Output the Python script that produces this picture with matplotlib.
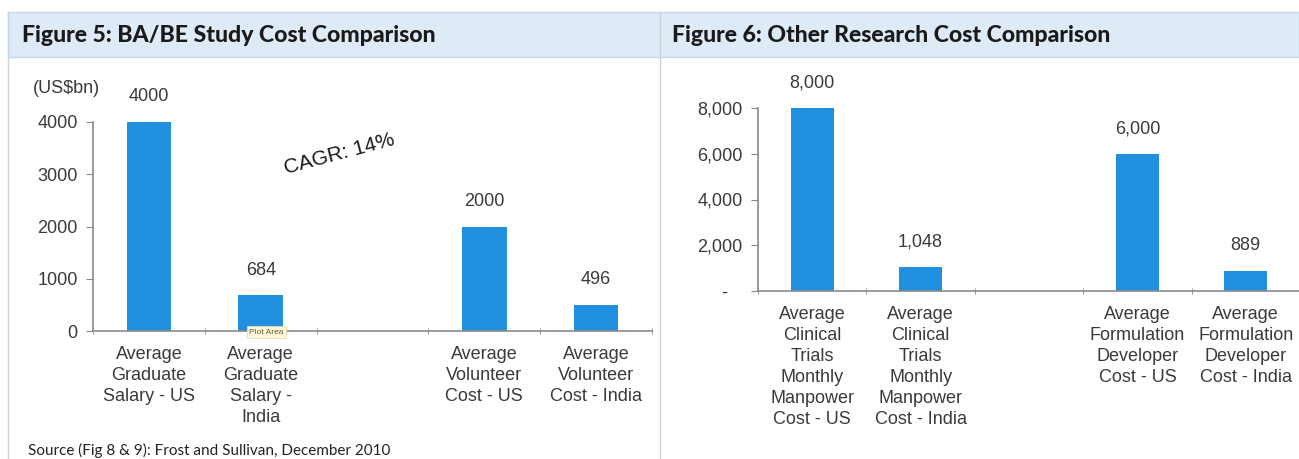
import matplotlib.pyplot as plt
import numpy as np
from matplotlib.patches import Rectangle
from matplotlib.lines import Line2D

# figure 5: BA/BE study costs (blank slot between the two groups)
ba_labels = ["Average\nGraduate\nSalary - US", "Average\nGraduate\nSalary -\nIndia", "",
             "Average\nVolunteer\nCost - US", "Average\nVolunteer\nCost - India"]
ba_values = [4000, 684, None, 2000, 496]
ba_ticks = [0, 1000, 2000, 3000, 4000]

# figure 6: other research costs
other_labels = ["Average\nClinical\nTrials\nMonthly\nManpower\nCost - US",
                "Average\nClinical\nTrials\nMonthly\nManpower\nCost - India", "",
                "Average\nFormulation\nDeveloper\nCost - US",
                "Average\nFormulation\nDeveloper\nCost - India"]
other_values = [8000, 1048, None, 6000, 889]
other_ticks = [0, 2000, 4000, 6000, 8000]
other_ticklabels = ["-   ", "2,000", "4,000", "6,000", "8,000"]

BLUE = "#1f8fde"
TEXT = "#3a3a3a"
AXIS = "#8a8a8a"
W, H = 1299, 459

plt.rcParams["font.family"] = ["Liberation Sans", "DejaVu Sans"]

fig = plt.figure(figsize=(W / 100, H / 100), dpi=100)


def px_axes(x0, y0, x1, y1):
    # pixel box (top-left origin) -> figure axes
    return fig.add_axes([x0 / W, 1 - y1 / H, (x1 - x0) / W, (y1 - y0) / H])


def bar_panel(ax, labels, values, ymax, fmt):
    x = np.arange(len(labels))
    for xi, v in zip(x, values):
        if v is None:
            continue
        ax.bar(xi, v, width=0.4, color=BLUE, zorder=2)
        ax.annotate(fmt(v), (xi, v), xytext=(0, 12), textcoords="offset points",
                    ha="center", va="bottom", fontsize=13, color=TEXT,
                    annotation_clip=False)
    ax.set_xlim(-0.5, len(labels) - 0.5)
    ax.set_ylim(0, ymax)
    ax.set_xticks(x)
    ax.set_xticklabels(labels, fontsize=13, color=TEXT, linespacing=1.3)
    ax.set_xticks(np.arange(len(labels) + 1) - 0.5, minor=True)
    ax.tick_params(axis="x", which="major", length=0, pad=11)
    ax.tick_params(axis="x", which="minor", length=5, color=AXIS, direction="inout")
    ax.tick_params(axis="y", length=5, color=AXIS, labelsize=13, labelcolor=TEXT, pad=6)
    for s in ("top", "right"):
        ax.spines[s].set_visible(False)
    for s in ("left", "bottom"):
        ax.spines[s].set_color(AXIS)
        ax.spines[s].set_linewidth(1.2)
    ax.patch.set_alpha(0)


# title band and panel frames
fig.patches.append(Rectangle((8 / W, 1 - 57 / H), (W - 8) / W, 45 / H,
                             transform=fig.transFigure, facecolor="#deebf7",
                             edgecolor="#c6d9ec", linewidth=1.0, zorder=0))
for xp in (8, 660):
    fig.lines.append(Line2D([xp / W, xp / W], [0, 1 - 12 / H], transform=fig.transFigure,
                            color="#c9d3dc", linewidth=1.0))

fig.text(22 / W, 1 - 35 / H, "Figure 5: BA/BE Study Cost Comparison", family="Lato",
         weight="black", fontsize=16.6, color="#1a1a1a", va="center")
fig.text(672 / W, 1 - 35 / H, "Figure 6: Other Research Cost Comparison", family="Lato",
         weight="black", fontsize=16.6, color="#1a1a1a", va="center")

ax1 = px_axes(93, 122, 652, 331)
bar_panel(ax1, ba_labels, ba_values, 4000, lambda v: f"{v}")
ax1.set_yticks(ba_ticks)
ax1.text(-0.048, 1.158, "(US\\$bn)", transform=ax1.transAxes, ha="center", va="center",
         fontsize=13, color=TEXT)
ax1.text(0.44, 0.845, "CAGR: 14%", transform=ax1.transAxes, ha="center", va="center",
         fontsize=15, color="#1a1a1a", rotation=15)
ax1.text(1.05, -20, "Plot Area", ha="center", va="center", fontsize=6, color="#6b5a2a",
         bbox=dict(boxstyle="square,pad=0.25", facecolor="#fdf8dc", edgecolor="#e6dcae",
                   linewidth=0.6), clip_on=False, zorder=3)

ax2 = px_axes(758, 108, 1300, 291)
bar_panel(ax2, other_labels, other_values, 8000, lambda v: f"{v:,}")
ax2.set_yticks(other_ticks)
ax2.set_yticklabels(other_ticklabels)

fig.text(28 / W, 1 - 458 / H, "Source (Fig 8 & 9): Frost and Sullivan, December 2010",
         family="Lato", fontsize=11, color="#222222", va="bottom")

fig.savefig("out.png", dpi=100)
